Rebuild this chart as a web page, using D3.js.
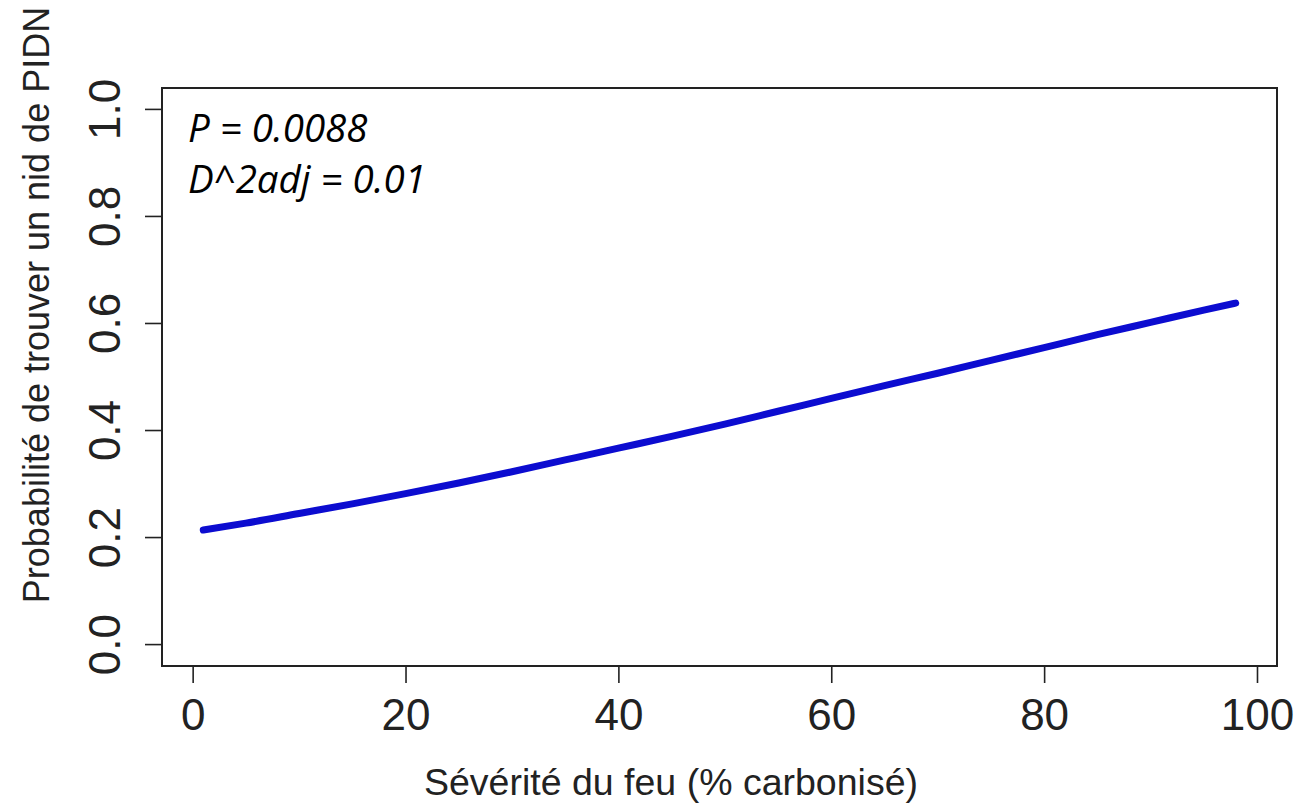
<!DOCTYPE html>
<html>
<head>
<meta charset="utf-8">
<script src="https://cdn.jsdelivr.net/npm/d3@7"></script>
<style>
  body { margin: 0; background: #fff; }
  svg { display: block; }
</style>
</head>
<body>
<div id="chart"></div>
<script>
// fire severity (% charred) vs fitted probability
var severity = [1, 5, 10, 15, 20, 25, 30, 35, 40, 45, 50, 55, 60, 65, 70, 75, 80, 85, 90, 95, 98];
var probability = [0.214, 0.227, 0.245, 0.263, 0.282, 0.302, 0.323, 0.345, 0.367, 0.389, 0.412, 0.436, 0.460, 0.484, 0.507, 0.531, 0.555, 0.579, 0.602, 0.625, 0.638];

var xTicks = [0, 20, 40, 60, 80, 100];
var yTicks = [0.0, 0.2, 0.4, 0.6, 0.8, 1.0];

var xLabel = "Sévérité du feu (% carbonisé)";
var yLabel = "Probabilité de trouver un nid de PIDN";
var notes = ["P = 0.0088", "D^2adj = 0.01"];

function draw(divid) {
	var width = 1295, height = 810;
	var margin = {top: 88, right: 18, bottom: 144, left: 162};

	var svg = d3.select(divid).append("svg")
		.attr("width", width)
		.attr("height", height);

	// R style 4% padding around the data range
	var xMin = d3.min(severity), xMax = d3.max(severity);
	var xPad = (xMax - xMin) * 0.04;
	var x = d3.scaleLinear()
		.domain([xMin - xPad, xMax + xPad])
		.range([margin.left, width - margin.right]);
	var y = d3.scaleLinear()
		.domain([-0.04, 1.04])
		.range([height - margin.bottom, margin.top]);

	var font = "'Liberation Sans', Arial, sans-serif";

	// x axis
	svg.append("g")
		.attr("transform", "translate(0," + (height - margin.bottom) + ")")
		.call(d3.axisBottom(x).tickValues(xTicks).tickSize(17).tickPadding(16).tickFormat(d3.format("d")))
		.call(g => g.select(".domain").remove())
		.call(g => g.selectAll("line").attr("stroke", "#222").attr("stroke-width", 1.6))
		.call(g => g.selectAll("text").attr("font-family", font).attr("font-size", "44px").attr("fill", "#222"));

	// y axis, labels parallel to the axis
	var yAxis = svg.append("g")
		.attr("transform", "translate(" + margin.left + ",0)")
		.call(d3.axisLeft(y).tickValues(yTicks).tickSize(17).tickFormat(d3.format(".1f")))
		.call(g => g.select(".domain").remove())
		.call(g => g.selectAll("line").attr("stroke", "#222").attr("stroke-width", 1.6));
	yAxis.selectAll("text")
		.attr("font-family", font)
		.attr("font-size", "44px")
		.attr("fill", "#222")
		.attr("x", null).attr("dy", null)
		.attr("text-anchor", "middle")
		.attr("transform", d => "translate(-42," + y(d) + ") rotate(-90)")
		.attr("y", 0);
	yAxis.selectAll(".tick").attr("transform", null);
	yAxis.selectAll(".tick line").attr("transform", d => "translate(0," + y(d) + ")");

	// frame
	svg.append("rect")
		.attr("x", margin.left)
		.attr("y", margin.top)
		.attr("width", width - margin.left - margin.right)
		.attr("height", height - margin.top - margin.bottom)
		.attr("fill", "none")
		.attr("stroke", "#222")
		.attr("stroke-width", 2);

	// fitted curve
	var pts = severity.map((s, i) => [s, probability[i]]);
	svg.append("path")
		.datum(pts)
		.attr("fill", "none")
		.attr("stroke", "#0c0cd0")
		.attr("stroke-width", 7)
		.attr("stroke-linecap", "round")
		.attr("d", d3.line().x(d => x(d[0])).y(d => y(d[1])).curve(d3.curveMonotoneX));

	// annotation
	svg.append("g").selectAll("text")
		.data(notes)
		.enter()
		.append("text")
		.attr("x", 188)
		.attr("y", (d, i) => 142 + i * 51)
		.attr("font-family", "'Open Sans', sans-serif")
		.attr("font-style", "italic")
		.attr("font-size", "38.5px")
		.attr("fill", "#000")
		.text(d => d);

	// axis titles
	svg.append("text")
		.attr("x", 671)
		.attr("y", 795)
		.attr("text-anchor", "middle")
		.attr("font-family", font)
		.attr("font-size", "37.5px")
		.attr("fill", "#222")
		.text(xLabel);

	svg.append("text")
		.attr("transform", "translate(49," + 305 + ") rotate(-90)")
		.attr("text-anchor", "middle")
		.attr("font-family", font)
		.attr("font-size", "36px")
		.attr("fill", "#222")
		.text(yLabel);
}

draw("#chart");
</script>
</body>
</html>
